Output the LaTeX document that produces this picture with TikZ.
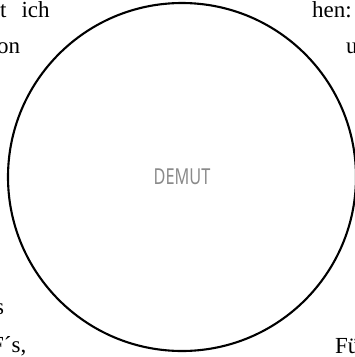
\documentclass[tikz,border=0pt]{standalone}
\usepackage{fontspec}
\setmainfont{Liberation Serif}
\newfontfamily\demutfont[FakeStretch=0.74]{Noto Sans}
\usepackage{tikz}
\definecolor{trait}{HTML}{000000}
\definecolor{grismot}{HTML}{8A8A8A}
\tikzset{
  cercle/.style={circle, draw=trait, line width=2.1pt, minimum size=348pt, inner sep=0pt},
  motcle/.style={font=\demutfont\fontsize{22}{26}\selectfont, text=grismot, inner sep=0pt},
  fragment/.style={font=\fontsize{23}{27}\selectfont, inner sep=0pt, anchor=base west}
}
\begin{document}
\begin{tikzpicture}[x=1pt, y=-1pt]
    \useasboundingbox (0,0) rectangle (355,357);
    \clip (0,0) rectangle (355,357);

    \node[cercle] (ring) at (182,177) {};
    \node[motcle] (demut) at (ring.center) {DEMUT};

    % Textreste am Rand
    \node[fragment] (z1) at (0,17) {t\hskip 15pt ich};
    \node[fragment] (z2) at (-3,53) {on};
    \node[fragment] (z3) at (-5,314) {s};
    \node[fragment] (z4) at (-9,352) {F´s,};
    \node[fragment] (z5) at (312,17) {hen:};
    \node[fragment] (z6) at (346,53) {u};
    \node[fragment] (z7) at (335,353) {Fü};
  \end{tikzpicture}
\end{document}
